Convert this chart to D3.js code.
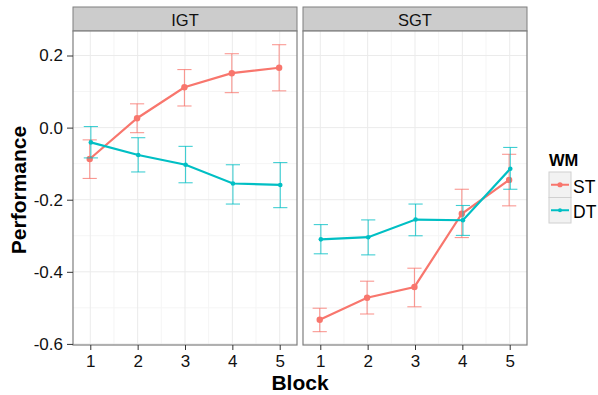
<!DOCTYPE html>
<html>
<head>
<meta charset="utf-8">
<script src="https://cdn.jsdelivr.net/npm/d3@7"></script>
<style>
body { margin: 0; background: #fff; }
text { font-family: Arial, "Liberation Sans", sans-serif; }
</style>
</head>
<body>
<div id="chart"></div>
<script>
// chart values
var blocks = [1, 2, 3, 4, 5];
var tasks = ["IGT", "SGT"];
var groups = ["ST", "DT"];
var yTicks = [0.2, 0.0, -0.2, -0.4, -0.6];

var igtST = [-0.087, 0.026, 0.112, 0.151, 0.166];
var igtSTlo = [-0.141, -0.014, 0.060, 0.097, 0.102];
var igtSThi = [-0.034, 0.066, 0.161, 0.205, 0.230];
var igtDT = [-0.041, -0.076, -0.103, -0.155, -0.159];
var igtDTlo = [-0.084, -0.123, -0.153, -0.212, -0.222];
var igtDThi = [0.003, -0.028, -0.052, -0.103, -0.097];

var sgtST = [-0.533, -0.472, -0.442, -0.239, -0.145];
var sgtSTlo = [-0.566, -0.517, -0.497, -0.305, -0.217];
var sgtSThi = [-0.501, -0.426, -0.390, -0.171, -0.074];
var sgtDT = [-0.310, -0.304, -0.255, -0.257, -0.114];
var sgtDTlo = [-0.350, -0.353, -0.300, -0.299, -0.171];
var sgtDThi = [-0.269, -0.256, -0.212, -0.216, -0.055];

var colors = {ST: "#F8766D", DT: "#00BFC4"};

function series(mean, lo, hi) {
	return blocks.map(function(b, i) { return {block: b, y: mean[i], lo: lo[i], hi: hi[i]}; });
}
var panels = [
	{task: tasks[0], lines: {ST: series(igtST, igtSTlo, igtSThi), DT: series(igtDT, igtDTlo, igtDThi)}},
	{task: tasks[1], lines: {ST: series(sgtST, sgtSTlo, sgtSThi), DT: series(sgtDT, sgtDTlo, sgtDThi)}}
];

var W = 598, H = 395;
var panelLeft = [73, 303], panelW = 224;
var stripTop = 7, panelTop = 31, panelBottom = 345;
var dodge = {ST: -0.012, DT: 0.012};
var fontFam = "Arial, 'Liberation Sans', sans-serif";
var fmtY = function(d) { return d3.format(".1f")(d).replace("\u2212", "-"); };

var svg = d3.select("#chart").append("svg").attr("width", W).attr("height", H);

var y = d3.scaleLinear().domain([-0.603, 0.268]).range([panelBottom, panelTop]);

panels.forEach(function(p, pi) {
	var x = d3.scaleLinear().domain([0.635, 5.365]).range([panelLeft[pi], panelLeft[pi] + panelW]);
	var g = svg.append("g");

	// strip
	g.append("rect").attr("x", x.range()[0]).attr("y", stripTop)
		.attr("width", panelW).attr("height", panelTop - stripTop)
		.attr("fill", "#cccccc").attr("stroke", "#7f7f7f").attr("stroke-width", 1);
	g.append("text").attr("x", x.range()[0] + panelW / 2).attr("y", 25.5)
		.attr("text-anchor", "middle").attr("font-size", 16.5).attr("fill", "#111").text(p.task);

	g.append("rect").attr("x", x.range()[0]).attr("y", panelTop)
		.attr("width", panelW).attr("height", panelBottom - panelTop).attr("fill", "#fff");

	// grid
	var minorY = [0.1, -0.1, -0.3, -0.5];
	var minorX = [1.5, 2.5, 3.5, 4.5];
	g.selectAll(".mny").data(minorY).enter().append("line")
		.attr("x1", x.range()[0]).attr("x2", x.range()[1])
		.attr("y1", function(d) { return y(d); }).attr("y2", function(d) { return y(d); })
		.attr("stroke", "#f5f5f5").attr("stroke-width", 1);
	g.selectAll(".mnx").data(minorX).enter().append("line")
		.attr("y1", panelTop).attr("y2", panelBottom)
		.attr("x1", function(d) { return x(d); }).attr("x2", function(d) { return x(d); })
		.attr("stroke", "#f5f5f5").attr("stroke-width", 1);
	g.selectAll(".mjy").data(yTicks).enter().append("line")
		.attr("x1", x.range()[0]).attr("x2", x.range()[1])
		.attr("y1", function(d) { return y(d); }).attr("y2", function(d) { return y(d); })
		.attr("stroke", "#ebebeb").attr("stroke-width", 1);
	g.selectAll(".mjx").data(blocks).enter().append("line")
		.attr("y1", panelTop).attr("y2", panelBottom)
		.attr("x1", function(d) { return x(d); }).attr("x2", function(d) { return x(d); })
		.attr("stroke", "#ebebeb").attr("stroke-width", 1);

	// series
	groups.forEach(function(k) {
		var d = p.lines[k];
		var gx = function(v) { return x(v.block + dodge[k]); };
		var eb = g.append("g").attr("stroke", colors[k]).attr("stroke-opacity", 0.75).attr("stroke-width", 1.1);
		d.forEach(function(v) {
			eb.append("line").attr("x1", gx(v)).attr("x2", gx(v)).attr("y1", y(v.lo)).attr("y2", y(v.hi));
			eb.append("line").attr("x1", x(v.block + dodge[k] - 0.15)).attr("x2", x(v.block + dodge[k] + 0.15))
				.attr("y1", y(v.lo)).attr("y2", y(v.lo));
			eb.append("line").attr("x1", x(v.block + dodge[k] - 0.15)).attr("x2", x(v.block + dodge[k] + 0.15))
				.attr("y1", y(v.hi)).attr("y2", y(v.hi));
		});
		g.append("path").datum(d)
			.attr("d", d3.line().x(gx).y(function(v) { return y(v.y); }))
			.attr("fill", "none").attr("stroke", colors[k]).attr("stroke-width", 2.2);
		g.selectAll(".pt" + k).data(d).enter().append("circle")
			.attr("cx", gx).attr("cy", function(v) { return y(v.y); })
			.attr("r", k === "ST" ? 3.2 : 2.3).attr("fill", colors[k]);
	});

	// border
	g.append("rect").attr("x", x.range()[0]).attr("y", panelTop)
		.attr("width", panelW).attr("height", panelBottom - panelTop)
		.attr("fill", "none").attr("stroke", "#7f7f7f").attr("stroke-width", 1.2);

	// x axis
	var xa = g.append("g").attr("transform", "translate(0," + panelBottom + ")")
		.call(d3.axisBottom(x).tickValues(blocks).tickFormat(d3.format("d")).tickSize(5).tickPadding(5));
	xa.select(".domain").remove();
	xa.selectAll("line").attr("stroke", "#333");
	xa.selectAll("text").attr("font-size", 17).attr("fill", "#111").attr("font-family", fontFam);

	if (pi === 0) {
		var ya = g.append("g").attr("transform", "translate(" + x.range()[0] + ",0)")
			.call(d3.axisLeft(y).tickValues(yTicks).tickFormat(fmtY).tickSize(6).tickPadding(4));
		ya.select(".domain").remove();
		ya.selectAll("line").attr("stroke", "#333");
		ya.selectAll("text").attr("font-size", 17).attr("fill", "#111").attr("font-family", fontFam);
	}
});

// axis titles
svg.append("text").attr("x", 300).attr("y", 390).attr("text-anchor", "middle")
	.attr("font-size", 21).attr("font-weight", "bold").text("Block");
svg.append("text").attr("transform", "translate(26,190) rotate(-90)").attr("text-anchor", "middle")
	.attr("font-size", 21).attr("font-weight", "bold").text("Performance");

// legend
var lg = svg.append("g").attr("transform", "translate(549,0)");
lg.append("text").attr("x", 0).attr("y", 166).attr("font-size", 16.5).attr("font-weight", "bold").text("WM");
groups.forEach(function(k, i) {
	var ky = 172 + i * 25.5;
	lg.append("rect").attr("x", 0).attr("y", ky).attr("width", 22).attr("height", 25.5)
		.attr("fill", "#f2f2f2").attr("stroke", "#d0d0d0");
	lg.append("line").attr("x1", 2).attr("x2", 20).attr("y1", ky + 12.75).attr("y2", ky + 12.75)
		.attr("stroke", colors[k]).attr("stroke-width", 2);
	lg.append("circle").attr("cx", 11).attr("cy", ky + 12.75).attr("r", k === "ST" ? 2.6 : 2).attr("fill", colors[k]);
	lg.append("text").attr("x", 24).attr("y", ky + 20.5).attr("font-size", 17.5).text(k);
});
</script>
</body>
</html>
